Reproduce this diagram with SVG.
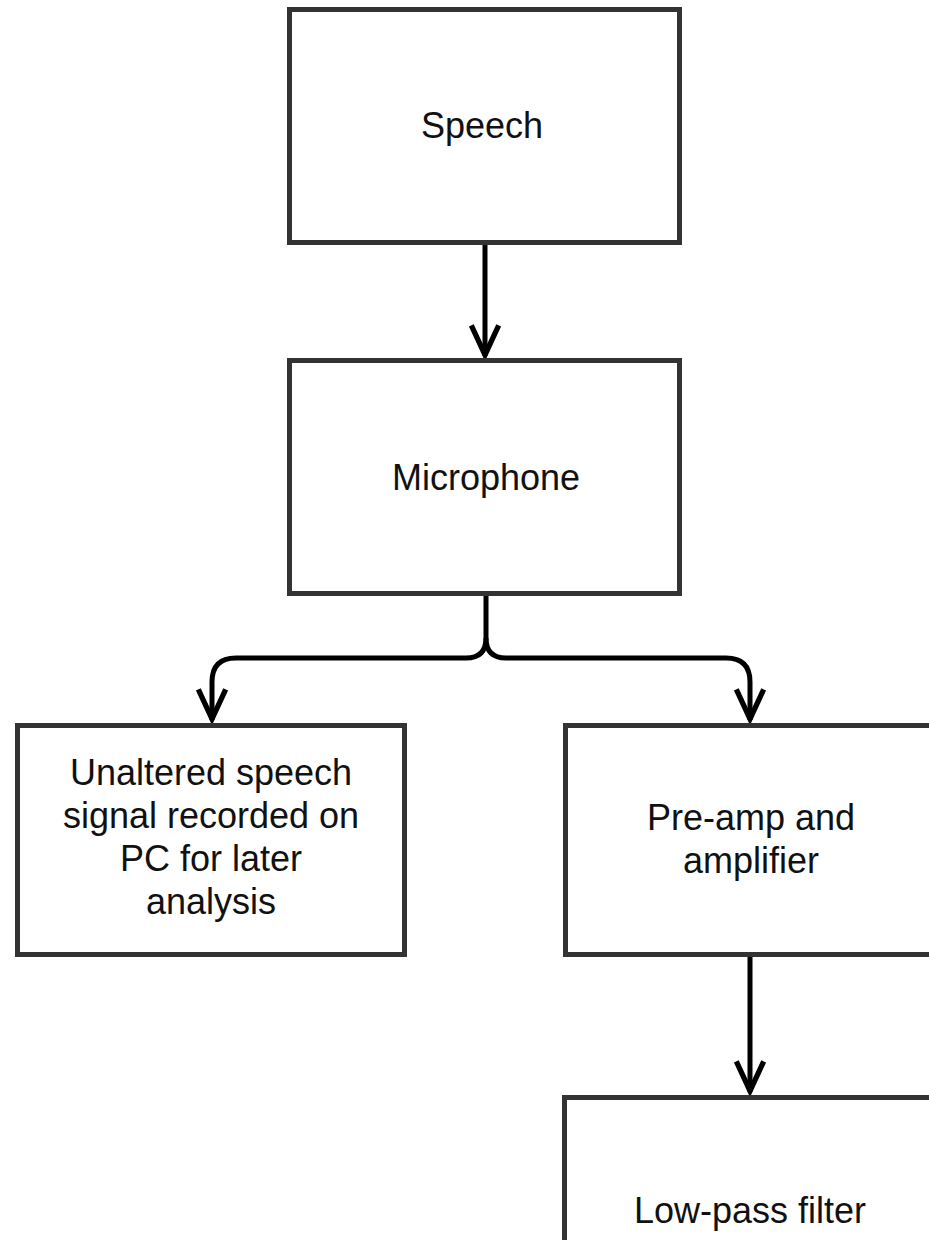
<svg xmlns="http://www.w3.org/2000/svg" width="929" height="1240" viewBox="0 0 929 1240">
<style>
.box{fill:#fff;stroke:#333;stroke-width:5}
.lbl{font-family:"Liberation Sans",Arial,sans-serif;font-size:36px;fill:#111;text-anchor:middle}
.con{fill:none;stroke:#000;stroke-width:5}
</style>
<defs>
<marker id="arr" markerUnits="userSpaceOnUse" markerWidth="40" markerHeight="40" viewBox="-34 -18 38 36" refX="0" refY="0" orient="auto" overflow="visible">
<path d="M-29,-13 L-1,0 L-29,13" fill="none" stroke="#000" stroke-width="5" stroke-linejoin="miter"/>
</marker>
</defs>
<rect width="929" height="1240" fill="#fff"/>
<g id="connectors">
<path class="con" d="M485,245 L485,356" marker-end="url(#arr)"/>
<path class="con" d="M486,596 L486,638 Q486,658 466,658 L236,658 Q212,658 212,682 L212,720" marker-end="url(#arr)"/>
<path class="con" d="M486,638 Q486,658 506,658 L726,658 Q750,658 750,682 L750,720" marker-end="url(#arr)"/>
<path class="con" d="M750,957 L750,1092" marker-end="url(#arr)"/>
</g>
<g id="speech">
<rect class="box" x="289.5" y="9.5" width="390" height="233"/>
<text class="lbl" x="482" y="138">Speech</text>
</g>
<g id="microphone">
<rect class="box" x="289.5" y="360.5" width="390" height="233"/>
<text class="lbl" x="486" y="490">Microphone</text>
</g>
<g id="unaltered">
<rect class="box" x="17.5" y="725.5" width="387" height="229"/>
<text class="lbl" x="211" y="785">Unaltered speech</text>
<text class="lbl" x="211" y="828">signal recorded on</text>
<text class="lbl" x="211" y="871">PC for later</text>
<text class="lbl" x="211" y="914">analysis</text>
</g>
<g id="preamp">
<rect class="box" x="565.5" y="725.5" width="390" height="229"/>
<text class="lbl" x="751" y="830">Pre-amp and</text>
<text class="lbl" x="751" y="873">amplifier</text>
</g>
<g id="lowpass">
<rect class="box" x="564.5" y="1097.5" width="390" height="233"/>
<text class="lbl" x="750" y="1223">Low-pass filter</text>
</g>
</svg>
